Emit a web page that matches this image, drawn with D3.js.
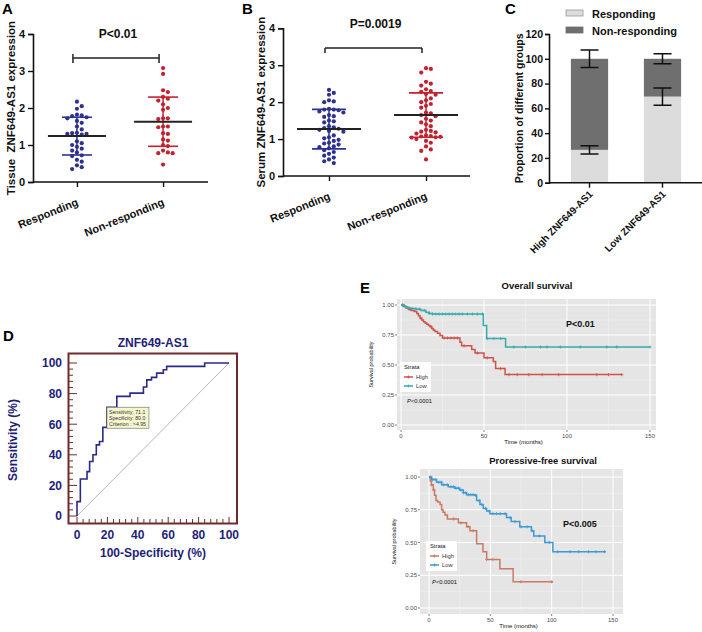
<!DOCTYPE html>
<html><head><meta charset="utf-8">
<script src="https://cdn.jsdelivr.net/npm/d3@7"></script>
<style>body{margin:0;background:#fff}svg{display:block}text{font-family:"Liberation Sans",Arial,sans-serif}</style>
</head><body><svg id="c" width="702" height="632"></svg>
<script>
// ---------- Panel A / B data ----------
const groups = ["Responding", "Non-responding"];
const tissueResponding = [2.17,2.05,1.98,1.82,1.80,1.78,1.75,1.72,1.65,1.60,1.50,1.42,1.33,1.32,1.30,1.30,1.28,1.10,1.05,1.00,0.95,0.90,0.85,0.80,0.72,0.70,0.60,0.55,0.45,0.40,0.35];
const tissueNonResponding = [3.08,2.92,2.48,2.43,2.30,2.25,2.20,2.10,2.00,1.95,1.72,1.70,1.72,1.50,1.48,1.50,1.32,1.30,1.15,1.12,1.00,0.97,0.85,0.80,0.78,0.78,0.47];
const tissueMean = [1.24, 1.63];
const tissueSD = [0.51, 0.665];
const serumResponding = [2.33,2.25,2.20,2.05,2.02,2.00,1.82,1.80,1.80,1.78,1.75,1.72,1.65,1.62,1.60,1.50,1.48,1.45,1.35,1.32,1.30,1.28,1.25,1.22,1.20,1.10,1.05,1.02,0.98,0.95,0.90,0.88,0.85,0.80,0.78,0.75,0.70,0.65,0.60,0.55,0.50,0.45,0.40,0.35];
const serumNonResponding = [2.92,2.90,2.80,2.55,2.50,2.45,2.35,2.30,2.28,2.22,2.20,2.10,2.05,2.00,1.95,1.90,1.85,1.72,1.70,1.65,1.62,1.55,1.50,1.45,1.40,1.35,1.25,1.22,1.20,1.18,1.15,1.10,1.08,1.07,1.06,1.05,1.04,1.00,0.95,0.90,0.80,0.72,0.68,0.45];
const serumMean = [1.27, 1.65];
const serumSD = [0.535, 0.60];
const pTexts = ["P<0.01", "P=0.0019"];
const yTicksAB = [0, 1, 2, 3, 4];

// ---------- Panel C data ----------
const propCategories = ["High ZNF649-AS1", "Low ZNF649-AS1"];
const propSeries = ["Responding", "Non-responding"];
const propResponding = [26.5, 69.5];
const propNonResponding = [73.5, 30.5];
const propRespErr = [3.3, 7.0];
const propTotalErr = [7.0, 4.0];
const propTicks = [0, 20, 40, 60, 80, 100, 120];

// ---------- Panel D data (ROC) ----------
const rocFPR = [0, 2.2, 6.6, 8.3, 10.5, 12.7, 14.8, 17.0, 19.7, 26.2, 34.9, 43.7, 45.9, 49.0, 52.4, 56.8, 59.0, 84.0, 100];
const rocTPR = [0, 9.4, 24.2, 29.0, 35.6, 40.0, 46.5, 48.7, 57.9, 71.1, 78.2, 80.3, 84.3, 89.0, 90.6, 93.4, 95.6, 97.8, 100];
const rocTicks = [0, 20, 40, 60, 80, 100];
const rocCut = [19.7, 71.1];
const rocLabel = ["Sensitivity: 71.1", "Specificity: 80.0", "Criterion : >4.95"];

// ---------- Panel E data (Kaplan-Meier) ----------
const osHighT = [0,1.5,3,4.5,6,8,9.5,10.5,11.5,12.5,13.5,14.5,15.5,16.5,17.5,18.5,19.5,20.5,22,23.5,25,35.5,36.5,42.6,44.6,50,55.6,57,62.7,133];
const osHighS = [1,.99,.975,.965,.955,.945,.93,.91,.89,.875,.86,.85,.84,.83,.82,.805,.79,.78,.765,.745,.725,.69,.66,.63,.60,.56,.53,.47,.42,.42];
const osHighCens = [1,5,12,18,26,28,30,32,34,38,46,52,60,65,70,77,85,95,118,125,133];
const osLowT = [0,2,4,6,9,12,15,17,19,49.6,51.6,63,150];
const osLowS = [1,.985,.975,.97,.965,.955,.94,.93,.925,.83,.72,.65,.65];
const osLowCens = [1,3,5,7,9,11,14,17,19,21,23,25,27,29,31,33,35,37,40,43,46,49,52,56,60,68,75,84,88,96,108,124,130,150];
const pfsHighT = [0,1,2,3.5,4.5,5.7,7,9,10.3,11.5,13,15,24,30.6,33.4,38.8,44,47,57.8,68.6,101];
const pfsHighS = [1,.97,.94,.90,.86,.82,.81,.79,.75,.73,.71,.68,.65,.62,.59,.49,.43,.37,.30,.20,.20];
const pfsHighCens = [2,4,20,26,32,36,47,52,75,100];
const pfsLowT = [0,2.2,6.2,10.3,15.7,21,25,28,30.6,37.4,38.8,41.5,44.2,47,49.6,63.2,67,74,83.5,85.4,94.4,101,144];
const pfsLowS = [1,.98,.96,.94,.925,.915,.90,.88,.865,.86,.82,.79,.76,.74,.72,.69,.66,.62,.59,.55,.50,.43,.43];
const pfsLowCens = [1,3,5,8,10,12,15,18,20,22,24,26,28,30,32,34,36,38,41,43,46,49,52,55,58,62,66,70,75,80,84,90,98,105,115,122,130,136,143];
const kmXTicks = [0, 50, 100, 150];
const kmXMinor = [25, 75, 125];
const kmYTicks = [0, 0.25, 0.5, 0.75, 1];
const kmYMinor = [0.125, 0.375, 0.625, 0.875];
const strata = ["High", "Low"];

// ================= drawing =================
const svg = d3.select("#c");
svg.append("rect").attr("width", 702).attr("height", 632).attr("fill", "#fff");
const FONT = '"Liberation Sans",Arial,sans-serif';
const navyDot = "#2f3190", redDot = "#c4212f";

function letter(t, x, y) {
  svg.append("text").attr("x", x).attr("y", y).attr("font-size", 15).attr("font-weight", "bold").text(t);
}

function swarm(vals, cx, yScale, r, dx) {
  const pts = vals.map(v => ({ v, y: yScale(v) })).sort((a, b) => b.v - a.v);
  const placed = [];
  pts.forEach(p => {
    for (let i = 0; i < 40; i++) {
      const k = i === 0 ? 0 : (i % 2 ? (i + 1) / 2 : -(i / 2));
      const x = cx + k * dx;
      if (!placed.some(q => Math.abs(q.x - x) < 0.1 && Math.abs(q.y - p.y) < 2 * r + 0.3)) {
        p.x = x; placed.push(p); break;
      }
    }
  });
  return pts;
}

function dotPanel(o) {
  const g = svg.append("g");
  const x = d3.scalePoint().domain(groups).range(o.xr).padding(o.pad);
  const y = d3.scaleLinear().domain([0, 4]).range(o.yr);
  const ya = g.append("g").attr("transform", `translate(${o.xr[0]},0)`)
    .call(d3.axisLeft(y).tickValues(yTicksAB).tickSize(5).tickPadding(3).tickFormat(d3.format("d")));
  ya.select(".domain").attr("stroke", "#111").attr("stroke-width", 1.6);
  ya.selectAll(".tick line").attr("stroke", "#111").attr("stroke-width", 1.4);
  ya.selectAll("text").attr("font-size", 11).attr("font-weight", "bold").attr("font-family", FONT).attr("fill", "#111");
  const xa = g.append("g").attr("transform", `translate(0,${o.yr[0]})`)
    .call(d3.axisBottom(x).tickSize(5).tickFormat(""));
  xa.select(".domain").attr("stroke", "#111").attr("stroke-width", 1.6).attr("d", `M${o.xr[0]},0H${o.xEnd}`);
  xa.selectAll(".tick line").attr("stroke", "#111").attr("stroke-width", 1.4);
  groups.forEach((gname, i) => {
    g.append("text").attr("transform", `translate(${x(gname) + 2},${o.yr[0] + 23}) rotate(-22)`)
      .attr("text-anchor", "end").attr("font-size", 11).attr("font-weight", "bold").attr("fill", "#111").text(gname);
  });
  g.append("text").attr("transform", `translate(${o.ylx},${(o.yr[0] + o.yr[1]) / 2 + o.yloff}) rotate(-90)`)
    .attr("text-anchor", "middle").attr("font-size", 11.5).attr("font-weight", "bold").attr("fill", "#111")
    .style("white-space", "pre").text(o.ylabel);
  const sets = [o.resp, o.non], cols = [navyDot, redDot];
  sets.forEach((vals, i) => {
    const cx = x(groups[i]);
    const pts = swarm(vals, cx, y, 2.1, 4.8);
    g.selectAll(null).data(pts).join("circle").attr("cx", d => d.x).attr("cy", d => d.y).attr("r", 2.1).attr("fill", cols[i]);
    const m = o.mean[i], s = o.sd[i];
    g.append("line").attr("x1", cx).attr("x2", cx).attr("y1", y(m + s)).attr("y2", y(m - s)).attr("stroke", cols[i]).attr("stroke-width", 1.5);
    [m + s, m - s].forEach(v => g.append("line").attr("x1", cx - o.sdw).attr("x2", cx + o.sdw).attr("y1", y(v)).attr("y2", y(v)).attr("stroke", cols[i]).attr("stroke-width", 1.6));
    g.append("line").attr("x1", cx - o.mw).attr("x2", cx + o.mw).attr("y1", y(m)).attr("y2", y(m)).attr("stroke", "#222").attr("stroke-width", 2);
  });
  const bx0 = x(groups[0]) - 4, bx1 = x(groups[1]) - 4;
  g.append("path").attr("d", `M${bx0},${o.by + o.bt}V${o.by + 5}M${bx0},${o.by}H${bx1}M${bx1},${o.by + o.bt}V${o.by + 5}`)
    .attr("fill", "none").attr("stroke", "#222").attr("stroke-width", 1.5);
  g.append("text").attr("x", (bx0 + bx1) / 2 + 2).attr("y", o.by - 20).attr("text-anchor", "middle")
    .attr("font-size", 12).attr("font-weight", "bold").attr("fill", "#111").text(o.p);
}

// Panel A
letter("A", 2, 14);
dotPanel({ xr: [33, 207], xEnd: 208, pad: 0.51, yr: [182, 34], resp: tissueResponding, non: tissueNonResponding,
  mean: tissueMean, sd: tissueSD, mw: 29, sdw: 15, by: 58, bt: -4, p: pTexts[0], ylx: 15, yloff: 0,
  ylabel: "Tissue  ZNF649-AS1 expression" });
// Panel B
letter("B", 242, 14);
dotPanel({ xr: [283, 472], xEnd: 470, pad: 0.474, yr: [176, 28.3], resp: serumResponding, non: serumNonResponding,
  mean: serumMean, sd: serumSD, mw: 32, sdw: 17, by: 48, bt: 0, p: pTexts[1], ylx: 265, yloff: 0,
  ylabel: "Serum ZNF649-AS1 expression" });

// Panel C
(function () {
  letter("C", 505, 14);
  const g = svg.append("g");
  const x = d3.scaleBand().domain(propCategories).range([549, 703]).paddingInner(0.49).paddingOuter(0.3);
  const y = d3.scaleLinear().domain([0, 120]).range([182.7, 34]);
  const light = "#dcdcdc", dark = "#6f6f6f";
  propCategories.forEach((c, i) => {
    g.append("rect").attr("x", x(c)).attr("width", x.bandwidth()).attr("y", y(propResponding[i])).attr("height", y(0) - y(propResponding[i])).attr("fill", light);
    const tot = propResponding[i] + propNonResponding[i];
    g.append("rect").attr("x", x(c)).attr("width", x.bandwidth()).attr("y", y(tot)).attr("height", y(propResponding[i]) - y(tot)).attr("fill", dark);
    const cx = x(c) + x.bandwidth() / 2;
    [[propResponding[i], propRespErr[i]], [tot, propTotalErr[i]]].forEach(([v, e]) => {
      g.append("path").attr("d", `M${cx - 9},${y(v + e)}H${cx + 9}M${cx},${y(v + e)}V${y(v - e)}M${cx - 9},${y(v - e)}H${cx + 9}`)
        .attr("stroke", "#111").attr("stroke-width", 1.5).attr("fill", "none");
    });
  });
  const ya = g.append("g").attr("transform", "translate(549,0)").call(d3.axisLeft(y).tickValues(propTicks).tickSize(4).tickPadding(2));
  ya.select(".domain").attr("stroke", "#111").attr("stroke-width", 1.6);
  ya.selectAll(".tick line").attr("stroke", "#111").attr("stroke-width", 1.4);
  ya.selectAll("text").attr("font-size", 10.5).attr("font-weight", "bold").attr("font-family", FONT).attr("fill", "#111");
  const xa = g.append("g").attr("transform", `translate(0,${y(0)})`).call(d3.axisBottom(x).tickSize(5).tickFormat(""));
  xa.select(".domain").attr("stroke", "#111").attr("stroke-width", 1.6).attr("d", "M549,0H702");
  xa.selectAll(".tick line").attr("stroke", "#111").attr("stroke-width", 1.4);
  propCategories.forEach(c => {
    g.append("text").attr("transform", `translate(${x(c) + x.bandwidth() / 2 + 4},${y(0) + 12}) rotate(-45)`)
      .attr("text-anchor", "end").attr("font-size", 10).attr("font-weight", "bold").attr("fill", "#111").text(c);
  });
  g.append("text").attr("transform", `translate(523,${(y(0) + y(120)) / 2}) rotate(-90)`).attr("text-anchor", "middle")
    .attr("font-size", 10.5).attr("font-weight", "bold").attr("fill", "#111").text("Proportion of different groups");
  propSeries.forEach((s, i) => {
    g.append("rect").attr("x", 566).attr("y", 10 + i * 17).attr("width", 17).attr("height", 6)
      .attr("fill", i ? dark : light).attr("stroke", i ? dark : "#999").attr("stroke-width", 0.8);
    g.append("text").attr("x", 592).attr("y", 18 + i * 17).attr("font-size", 11).attr("font-weight", "bold").attr("fill", "#111").text(s);
  });
})();

// Panel D (ROC)
(function () {
  letter("D", 3, 341);
  const navy = "#1e1e78", maroon = "#6e2b2b";
  const g = svg.append("g");
  const x = d3.scaleLinear().domain([0, 100]).range([77, 229]);
  const y = d3.scaleLinear().domain([0, 100]).range([516, 363]);
  g.append("rect").attr("x", 68.5).attr("y", 353.5).attr("width", 168.5).attr("height", 170).attr("fill", "#fff").attr("stroke", maroon).attr("stroke-width", 2);
  const minor = d3.range(0, 101, 4);
  minor.forEach(v => {
    const major = v % 20 === 0;
    g.append("line").attr("x1", 69).attr("x2", major ? 77 : 73).attr("y1", y(v)).attr("y2", y(v)).attr("stroke", maroon).attr("stroke-width", 1);
    g.append("line").attr("y1", 523).attr("y2", major ? 517 : 519).attr("x1", x(v)).attr("x2", x(v)).attr("stroke", maroon).attr("stroke-width", 1);
  });
  rocTicks.forEach(v => {
    g.append("text").attr("x", 62).attr("y", y(v)).attr("dy", "0.36em").attr("text-anchor", "end").attr("font-size", 12).attr("font-weight", "bold").attr("fill", navy).text(v);
    g.append("text").attr("x", x(v)).attr("y", 539).attr("text-anchor", "middle").attr("font-size", 12).attr("font-weight", "bold").attr("fill", navy).text(v);
  });
  g.append("line").attr("x1", x(0)).attr("y1", y(0)).attr("x2", x(100)).attr("y2", y(100)).attr("stroke", "#b4b4c4").attr("stroke-width", 1);
  const pts = rocFPR.map((f, i) => [f, rocTPR[i]]);
  g.append("path").attr("d", d3.line().x(d => x(d[0])).y(d => y(d[1])).curve(d3.curveStepBefore)(pts))
    .attr("fill", "none").attr("stroke", "#2a2a8c").attr("stroke-width", 1.6);
  const bx = x(rocCut[0]), by = y(rocCut[1]);
  g.append("rect").attr("x", bx).attr("y", by).attr("width", 42).attr("height", 21).attr("fill", "#f7f7cf").attr("stroke", "#666").attr("stroke-width", 0.6);
  rocLabel.forEach((t, i) => g.append("text").attr("x", bx + 2).attr("y", by + 6.5 + i * 6.3).attr("font-size", 5.2).attr("fill", "#333").text(t));
  g.append("text").attr("x", 153).attr("y", 347).attr("text-anchor", "middle").attr("font-size", 12).attr("font-weight", "bold").attr("fill", navy).text("ZNF649-AS1");
  g.append("text").attr("x", 153).attr("y", 557).attr("text-anchor", "middle").attr("font-size", 12).attr("font-weight", "bold").attr("fill", navy).text("100-Specificity (%)");
  g.append("text").attr("transform", "translate(17,440) rotate(-90)").attr("text-anchor", "middle").attr("font-size", 12).attr("font-weight", "bold").attr("fill", navy).text("Sensitivity (%)");
})();

// Panel E (Kaplan-Meier)
letter("E", 360, 293);
function kmPanel(o) {
  const g = svg.append("g");
  const x = d3.scaleLinear().domain([0, 150]).range(o.xr);
  const y = d3.scaleLinear().domain([0, 1]).range(o.yr);
  g.append("rect").attr("x", o.px[0]).attr("y", o.py[0]).attr("width", o.px[1] - o.px[0]).attr("height", o.py[1] - o.py[0]).attr("fill", "#e5e5e5");
  kmXMinor.forEach(v => g.append("line").attr("x1", x(v)).attr("x2", x(v)).attr("y1", o.py[0]).attr("y2", o.py[1]).attr("stroke", "#f2f2f2").attr("stroke-width", 0.5));
  kmYMinor.forEach(v => g.append("line").attr("y1", y(v)).attr("y2", y(v)).attr("x1", o.px[0]).attr("x2", o.px[1]).attr("stroke", "#f2f2f2").attr("stroke-width", 0.5));
  kmXTicks.forEach(v => {
    g.append("line").attr("x1", x(v)).attr("x2", x(v)).attr("y1", o.py[0]).attr("y2", o.py[1]).attr("stroke", "#fff").attr("stroke-width", 1);
    g.append("line").attr("x1", x(v)).attr("x2", x(v)).attr("y1", o.py[1]).attr("y2", o.py[1] + 2).attr("stroke", "#333").attr("stroke-width", 0.6);
    g.append("text").attr("x", x(v)).attr("y", o.py[1] + 8).attr("text-anchor", "middle").attr("font-size", 6).attr("fill", "#4d4d4d").text(v);
  });
  kmYTicks.forEach(v => {
    g.append("line").attr("y1", y(v)).attr("y2", y(v)).attr("x1", o.px[0]).attr("x2", o.px[1]).attr("stroke", "#fff").attr("stroke-width", 1);
    g.append("line").attr("y1", y(v)).attr("y2", y(v)).attr("x1", o.px[0] - 2).attr("x2", o.px[0]).attr("stroke", "#333").attr("stroke-width", 0.6);
    g.append("text").attr("x", o.px[0] - 3).attr("y", y(v)).attr("dy", "0.35em").attr("text-anchor", "end").attr("font-size", 6).attr("fill", "#4d4d4d").text(d3.format(".2f")(v));
  });
  const line = d3.line().x(d => x(d[0])).y(d => y(d[1])).curve(d3.curveStepAfter);
  o.curves.forEach(c => {
    const pts = c.t.map((t, i) => [t, c.s[i]]);
    g.append("path").attr("d", line(pts)).attr("fill", "none").attr("stroke", c.col).attr("stroke-width", 1.5);
    const bis = d3.bisector(d => d[0]).right;
    c.cens.forEach(t => {
      const sv = pts[Math.max(0, bis(pts, t) - 1)][1];
      const cx = x(t), cy = y(sv);
      g.append("path").attr("d", `M${cx - 1.6},${cy}H${cx + 1.6}M${cx},${cy - 1.6}V${cy + 1.6}`).attr("stroke", c.col).attr("stroke-width", 0.8);
    });
  });
  g.append("text").attr("x", o.title[1]).attr("y", o.title[2]).attr("text-anchor", "middle").attr("font-size", 9.5).attr("font-weight", "bold").attr("fill", "#111").text(o.title[0]);
  g.append("text").attr("x", (o.px[0] + o.px[1]) / 2 - 3).attr("y", o.py[1] + 14).attr("text-anchor", "middle").attr("font-size", 6).attr("fill", "#111").text("Time (months)");
  g.append("text").attr("transform", `translate(${o.px[0] - 24},${(o.py[0] + o.py[1]) / 2}) rotate(-90)`).attr("text-anchor", "middle").attr("font-size", 5.5).attr("fill", "#111").text("Survival probability");
  const L = o.leg;
  g.append("rect").attr("x", L[0]).attr("y", L[1]).attr("width", 31).attr("height", 30).attr("fill", "#fff");
  g.append("text").attr("x", L[0] + 4).attr("y", L[1] + 7).attr("font-size", 5.8).attr("fill", "#111").text("Strata");
  strata.forEach((s, i) => {
    const ly = L[1] + 15 + i * 9, col = o.curves[i].col;
    g.append("line").attr("x1", L[0] + 4).attr("x2", L[0] + 13).attr("y1", ly).attr("y2", ly).attr("stroke", col).attr("stroke-width", 1.5);
    g.append("path").attr("d", `M${L[0] + 7},${ly}H${L[0] + 10}M${L[0] + 8.5},${ly - 1.5}V${ly + 1.5}`).attr("stroke", col).attr("stroke-width", 0.8);
    g.append("text").attr("x", L[0] + 16).attr("y", ly + 2).attr("font-size", 5.8).attr("fill", "#333").text(s);
  });
  const pt = g.append("text").attr("x", o.pl[0]).attr("y", o.pl[1]).attr("font-size", 5.8).attr("fill", "#111");
  pt.append("tspan").attr("font-style", "italic").text("P");
  pt.append("tspan").text("<0.0001");
  g.append("text").attr("x", o.pb[1]).attr("y", o.pb[2]).attr("font-size", 9).attr("font-weight", "bold").attr("fill", "#111").text(o.pb[0]);
}
kmPanel({ xr: [401, 650], yr: [425, 305], px: [397, 656], py: [299, 430], title: ["Overall survival", 537, 289],
  curves: [{ t: osHighT, s: osHighS, cens: osHighCens, col: "#cf5349" }, { t: osLowT, s: osLowS, cens: osLowCens, col: "#3aabab" }],
  leg: [400, 362], pl: [407, 403], pb: ["P<0.01", 566, 327] });
kmPanel({ xr: [429, 613], yr: [608, 477], px: [420, 623], py: [469, 614], title: ["Proressive-free survival", 543, 464],
  curves: [{ t: pfsHighT, s: pfsHighS, cens: pfsHighCens, col: "#c97a64" }, { t: pfsLowT, s: pfsLowS, cens: pfsLowCens, col: "#3d9ad4" }],
  leg: [426, 541], pl: [432, 584], pb: ["P<0.005", 563, 527] });
</script></body></html>
